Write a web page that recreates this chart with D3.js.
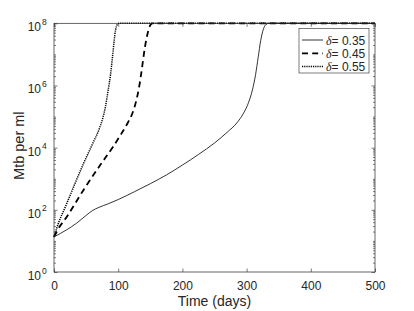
<!DOCTYPE html>
<html>
<head>
<meta charset="utf-8">
<script src="https://cdn.jsdelivr.net/npm/d3@7"></script>
<style>
  body { margin: 0; background: #fff; }
  text { font-family: "Liberation Sans", Arial, Helvetica, sans-serif; fill: #262626; }
</style>
</head>
<body>
<script>
// days since infection
var days35 = [0, 10, 20, 35, 50, 60, 70, 85, 100, 125, 150, 175, 200, 225, 250, 270, 285, 295, 303, 309, 314, 318, 322, 326, 330, 335, 500];
var mtb35  = [13.5, 17.4, 22.9, 37, 66, 95, 120, 158, 214, 380, 692, 1320, 2750, 6030, 14100, 31600, 63100, 126000, 282000, 708000, 2.24e6, 7.94e6, 2.82e7, 6.31e7, 9.1e7, 1e8, 1e8];

var days45 = [0, 7, 20, 46, 72, 92, 105, 115, 122, 128, 133, 137, 141, 145, 149, 153, 500];
var mtb45  = [13.5, 25, 60, 437, 2750, 10700, 28200, 63100, 126000, 316000, 1e6, 3.55e6, 1.41e7, 3.98e7, 7.94e7, 1e8, 1e8];

var days55 = [0, 4, 20, 46, 60, 70, 76, 80, 84, 88, 91, 93.5, 96, 98.5, 101, 500];
var mtb55  = [13.5, 25, 162, 3090, 13200, 38000, 89100, 200000, 631000, 2.24e6, 7.94e6, 2.51e7, 6.31e7, 9.1e7, 1e8, 1e8];

var deltas = ['0.35', '0.45', '0.55'];
var xTicks = [0, 100, 200, 300, 400, 500];
var yExponents = [0, 2, 4, 6, 8];

var margin = { top: 23.3, right: 39, bottom: 39, left: 54 };
var totalWidth = 414, totalHeight = 311;
var graphWidth = totalWidth - margin.left - margin.right;
var graphHeight = totalHeight - margin.top - margin.bottom;
var tickLen = 3.5, minorLen = 2;
var axisColor = '#262626';

var svg = d3.select('body')
  .append('svg')
  .attr('width', totalWidth)
  .attr('height', totalHeight);

var mainGroup = svg.append('g')
  .attr('transform', 'translate(' + margin.left + ',' + margin.top + ')');

var xScale = d3.scaleLinear().domain([0, 500]).range([0, graphWidth]);
var yScale = d3.scaleLog().domain([1, 1e8]).range([graphHeight, 0]);

// minor ticks: 2..9 of every decade plus the odd decades
var minorTicks = [];
for (var k = 0; k < 8; k++) {
  for (var m = 2; m <= 9; m++) minorTicks.push(m * Math.pow(10, k));
  if (k % 2 === 1) minorTicks.push(Math.pow(10, k));
}
var majorY = yExponents.map(function(e) { return Math.pow(10, e); });

function styleAxis(g) {
  g.select('.domain').remove();
  g.selectAll('.tick line').attr('stroke', axisColor).attr('stroke-width', 0.6);
}

// bottom and top x ticks
mainGroup.append('g')
  .attr('transform', 'translate(0,' + graphHeight + ')')
  .call(d3.axisBottom(xScale).tickValues(xTicks).tickSize(-tickLen).tickPadding(9.5).tickFormat(d3.format('d')))
  .call(styleAxis)
  .selectAll('text')
  .attr('font-size', 12)
  .attr('fill', axisColor);

mainGroup.append('g')
  .call(d3.axisTop(xScale).tickValues(xTicks).tickSize(-tickLen).tickFormat(''))
  .call(styleAxis);

// left and right y ticks
mainGroup.append('g')
  .call(d3.axisLeft(yScale).tickValues(majorY).tickSize(-tickLen).tickFormat(''))
  .call(styleAxis);
mainGroup.append('g')
  .call(d3.axisLeft(yScale).tickValues(minorTicks).tickSize(-minorLen).tickFormat(''))
  .call(styleAxis);
mainGroup.append('g')
  .attr('transform', 'translate(' + graphWidth + ',0)')
  .call(d3.axisRight(yScale).tickValues(majorY).tickSize(-tickLen).tickFormat(''))
  .call(styleAxis);
mainGroup.append('g')
  .attr('transform', 'translate(' + graphWidth + ',0)')
  .call(d3.axisRight(yScale).tickValues(minorTicks).tickSize(-minorLen).tickFormat(''))
  .call(styleAxis);

// y tick labels as 10^n
var yLabels = mainGroup.selectAll('.ylab')
  .data(yExponents)
  .enter()
  .append('g')
  .attr('class', 'ylab')
  .attr('transform', function(d) { return 'translate(0,' + yScale(Math.pow(10, d)) + ')'; });
yLabels.append('text')
  .attr('x', -13)
  .attr('y', 8)
  .attr('text-anchor', 'end')
  .attr('font-size', 12)
  .text('10');
yLabels.append('text')
  .attr('x', -12)
  .attr('y', 1.5)
  .attr('font-size', 8.5)
  .text(function(d) { return d; });

// curves
var line = d3.line()
  .x(function(d) { return xScale(d[0]); })
  .y(function(d) { return yScale(d[1]); })
  .curve(d3.curveMonotoneX);

var series = [
  { days: days35, mtb: mtb35, width: 0.8, dash: null },
  { days: days45, mtb: mtb45, width: 1.8, dash: '6,4.2' },
  { days: days55, mtb: mtb55, width: 1.5, dash: '1.2,1' }
];

series.forEach(function(s) {
  var pts = s.days.map(function(t, i) { return [t, s.mtb[i]]; });
  mainGroup.append('path')
    .datum(pts)
    .attr('d', line)
    .attr('fill', 'none')
    .attr('stroke', '#000')
    .attr('stroke-width', s.width)
    .attr('stroke-dasharray', s.dash);
});

// axes box
mainGroup.append('rect')
  .attr('width', graphWidth)
  .attr('height', graphHeight)
  .attr('fill', 'none')
  .attr('stroke', axisColor)
  .attr('stroke-width', 0.7);

// axis titles
svg.append('text')
  .attr('x', margin.left + graphWidth / 2)
  .attr('y', 306)
  .attr('text-anchor', 'middle')
  .attr('font-size', 14)
  .text('Time (days)');

svg.append('text')
  .attr('transform', 'translate(23.5,' + (margin.top + graphHeight / 2 - 2) + ') rotate(-90)')
  .attr('text-anchor', 'middle')
  .attr('font-size', 14.5)
  .text('Mtb per ml');

// legend
var legend = svg.append('g').attr('transform', 'translate(299,28.5)');
legend.append('rect')
  .attr('width', 70)
  .attr('height', 44.5)
  .attr('fill', '#fff')
  .attr('stroke', axisColor)
  .attr('stroke-width', 0.6);

var rows = legend.selectAll('.row')
  .data(series)
  .enter()
  .append('g')
  .attr('class', 'row')
  .attr('transform', function(d, i) { return 'translate(0,' + (11.5 + i * 13.3) + ')'; });
rows.append('line')
  .attr('x1', 3).attr('x2', 24)
  .attr('stroke', '#000')
  .attr('stroke-width', function(d) { return d.width; })
  .attr('stroke-dasharray', function(d) { return d.dash; });
var labels = rows.append('text')
  .attr('x', 27)
  .attr('y', 4.5)
  .attr('font-size', 12);
labels.append('tspan')
  .attr('font-family', '"Liberation Serif", "DejaVu Serif", serif')
  .attr('font-style', 'italic')
  .text('δ');
labels.append('tspan')
  .text(function(d, i) { return '= ' + deltas[i]; });
</script>
</body>
</html>
